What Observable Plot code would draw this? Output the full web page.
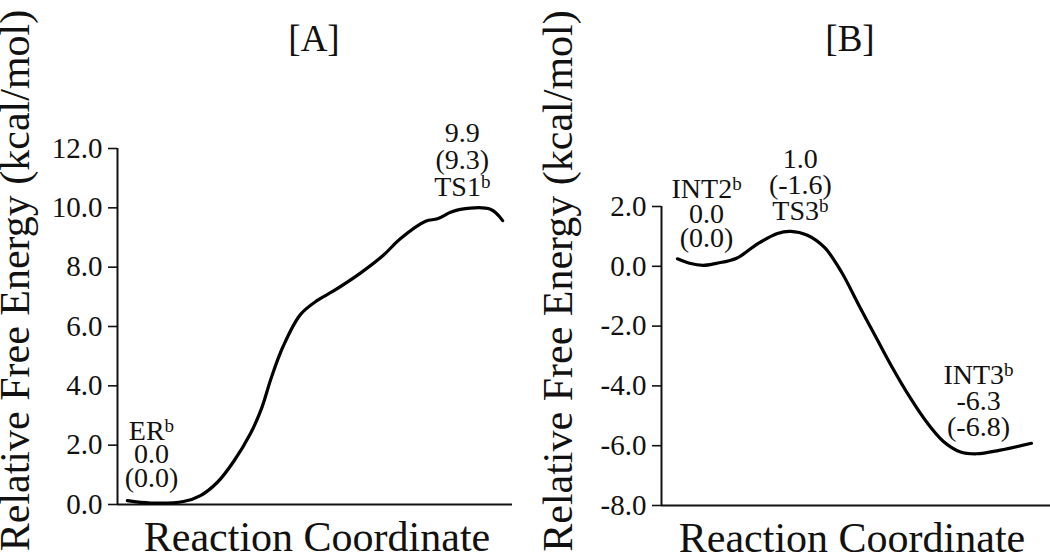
<!DOCTYPE html>
<html>
<head>
<meta charset="utf-8">
<script src="https://cdn.jsdelivr.net/npm/d3@7"></script>
<script src="https://cdn.jsdelivr.net/npm/@observablehq/plot@0.6"></script>
<style>
  html, body { margin: 0; padding: 0; background: #fff; }
  #wrap { display: flex; width: 1050px; height: 558px; overflow: hidden; }
  #wrap svg { overflow: visible; }
  #wrap svg, #wrap svg text, #wrap svg tspan { font-family: "Liberation Serif", "Times New Roman", serif !important; }
</style>
</head>
<body>
<div id="wrap"><div id="a"></div><div id="b"></div></div>
<script>
// ---- Data ----
const panelTitles = ["[A]", "[B]"];
const xTitle = "Reaction Coordinate";
const yTitle = "Relative Free Energy (kcal/mol)";

const ticksA = [0, 2, 4, 6, 8, 10, 12];
const ticksB = [-8, -6, -4, -2, 0, 2];

// Panel A free-energy profile (reaction coordinate 0-100, kcal/mol)
const aX = [2.5, 8.4, 16.7, 21, 25.3, 29.4, 33.7, 36.5, 39, 42, 46.3, 50.6, 54.7, 61.5, 67.3, 71.6, 78, 81, 84.3, 86.8, 94.4, 97.5];
const aY = [0.13, 0.05, 0.1, 0.3, 0.75, 1.45, 2.4, 3.25, 4.3, 5.35, 6.4, 6.88, 7.2, 7.8, 8.4, 8.96, 9.55, 9.63, 9.85, 9.95, 9.95, 9.57];

// Panel B free-energy profile
const bX = [4.1, 7.2, 10.7, 14.1, 19.3, 24.7, 29.8, 33.2, 37.5, 41.9, 46.3, 50.6, 55, 59.4, 63.8, 68.1, 72.4, 76.7, 81, 87.1, 95.1];
const bY = [0.25, 0.1, 0.03, 0.1, 0.27, 0.75, 1.1, 1.17, 1.04, 0.63, -0.2, -1.27, -2.34, -3.4, -4.37, -5.2, -5.85, -6.2, -6.27, -6.15, -5.92];

// Stationary-point annotations
const statesA = ["ER", "TS1"];
const valuesA = ["0.0", "9.9"];
const parensA = ["(0.0)", "(9.3)"];
const labelXA = [8.6, 87.3];
const labelYA = [0.6, 10.41];
const nameFirstA = [true, false];

const statesB = ["INT2", "TS3", "INT3"];
const valuesB = ["0.0", "1.0", "-6.3"];
const parensB = ["(0.0)", "(-1.6)", "(-6.8)"];
const labelXB = [11.6, 35.7, 81.5];
const labelYB = [0.64, 1.54, -5.69];
const nameFirstB = [true, false, true];

const lineHeightsA = [0.84, 0.96];
const lineHeightsB = [0.88, 0.93, 0.93];

// ---- Helpers ----
const font = "Liberation Serif";
const fmt = d => d.toFixed(1);

function labelText(state, value, paren, nameFirst) {
  const name = state + "^b";
  return nameFirst ? [name, value, paren].join("\n") : [value, paren, name].join("\n");
}

function supers(svg) {
  svg.querySelectorAll("text, tspan").forEach(el => {
    for (const node of [...el.childNodes]) {
      if (node.nodeType === 3 && node.nodeValue.includes("^")) {
        const [a, b] = node.nodeValue.split("^");
        node.nodeValue = a;
        const t = document.createElementNS("http://www.w3.org/2000/svg", "tspan");
        t.setAttribute("font-size", "0.68em");
        t.setAttribute("baseline-shift", "42%");
        t.textContent = b;
        el.insertBefore(t, node.nextSibling);
      }
    }
  });
}

function panel({title, xs, ys, yDomain, ticks, states, values, parens, lx, ly, nameFirst, lhs,
                marginLeft, marginRight, marginTop, marginBottom, titleDx, titleDy, xlabDx, ylabDx, ylabDy}) {
  const curve = xs.map((x, i) => ({x, y: ys[i]}));
  const labelMarks = states.map((s, i) => Plot.text([{x: lx[i], y: ly[i], t: labelText(s, values[i], parens[i], nameFirst[i])}], {
    x: "x", y: "y", text: "t", fontSize: 28, fontFamily: font, lineAnchor: "bottom", textAnchor: "middle",
    lineHeight: lhs[i], fill: "#111"
  }));
  const svg = Plot.plot({
    width: 525, height: 558,
    marginLeft, marginRight, marginTop, marginBottom,
    style: {fontFamily: font, background: "#fff", color: "#111", overflow: "visible"},
    x: {domain: [0, 100], axis: null},
    y: {domain: yDomain, axis: null},
    marks: [
      Plot.axisY({ticks, tickFormat: fmt, tickSize: 9, tickPadding: 6, fontSize: 29, fontFamily: font, label: null, strokeWidth: 1.6}),
      Plot.ruleX([0], {stroke: "#111", strokeWidth: 2}),
      Plot.ruleY([yDomain[0]], {stroke: "#111", strokeWidth: 2}),
      Plot.line(curve, {x: "x", y: "y", curve: "catmull-rom", stroke: "#000", strokeWidth: 3.2}),
      ...labelMarks,
      Plot.text([title], {frameAnchor: "top", dx: titleDx, dy: titleDy, lineAnchor: "bottom", fontSize: 37, fontFamily: font, fill: "#111"}),
      Plot.text([xTitle], {frameAnchor: "bottom", dx: xlabDx, dy: 46, lineAnchor: "bottom", fontSize: 42, fontFamily: font, fill: "#111"}),
      Plot.text([yTitle], {frameAnchor: "left", rotate: -90, dx: ylabDx, dy: ylabDy, lineAnchor: "bottom", textAnchor: "middle", fontSize: 42, fontFamily: font, fill: "#111"})
    ]
  });
  supers(svg);
  return svg;
}

document.getElementById("a").append(panel({
  title: panelTitles[0], xs: aX, ys: aY, yDomain: [0, 12], ticks: ticksA,
  states: statesA, values: valuesA, parens: parensA, lx: labelXA, ly: labelYA, nameFirst: nameFirstA, lhs: lineHeightsA,
  marginLeft: 117, marginRight: 13, marginTop: 148, marginBottom: 54,
  titleDx: -1, titleDy: -98, xlabDx: 2, ylabDx: -89, ylabDy: -46
}));

document.getElementById("b").append(panel({
  title: panelTitles[1], xs: bX, ys: bY, yDomain: [-8, 2], ticks: ticksB,
  states: statesB, values: valuesB, parens: parensB, lx: labelXB, ly: labelYB, nameFirst: nameFirstB, lhs: lineHeightsB,
  marginLeft: 136, marginRight: 0, marginTop: 206, marginBottom: 53,
  titleDx: -6, titleDy: -156, xlabDx: -4, ylabDx: -90, ylabDy: -75
}));
</script>
</body>
</html>
